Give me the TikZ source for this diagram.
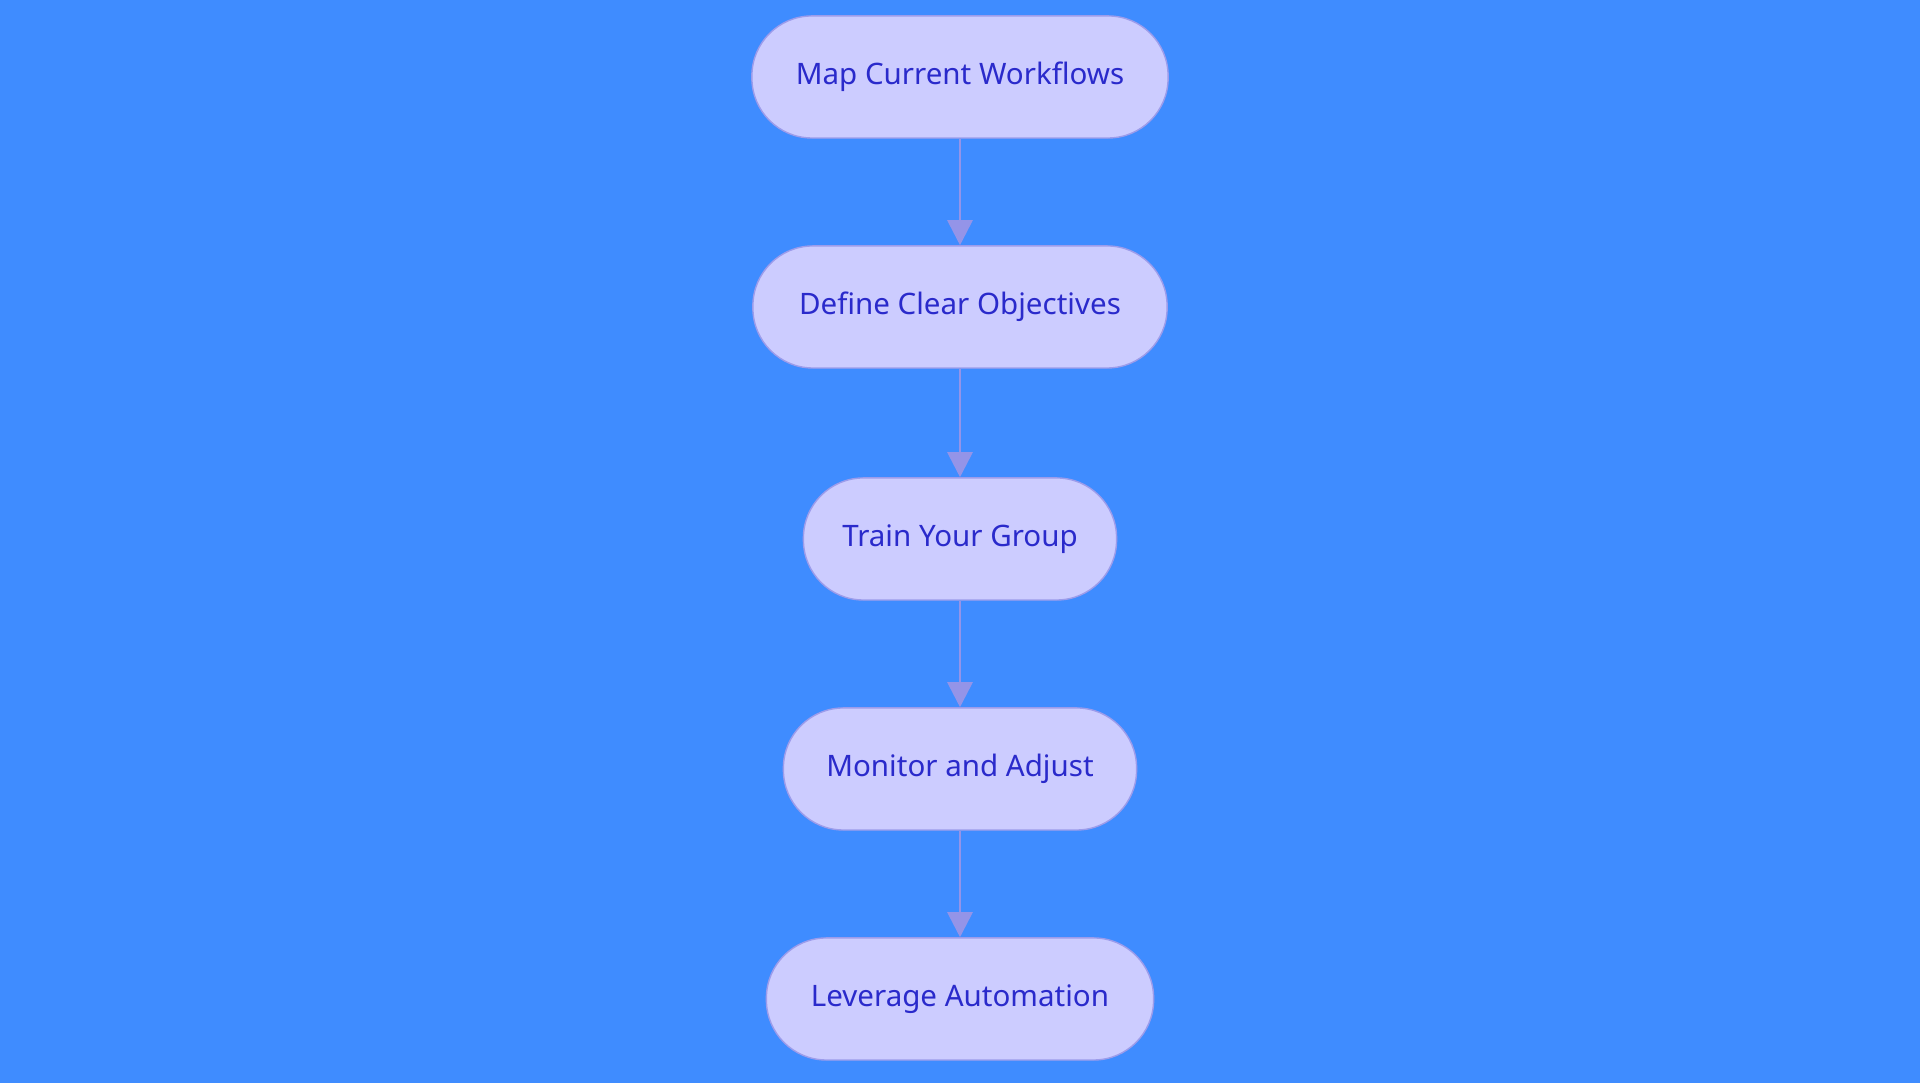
\documentclass[tikz,border=0pt]{standalone}
\usepackage{fontspec}
\setmainfont{Noto Sans}
\usetikzlibrary{positioning,arrows.meta}
\definecolor{bgblue}{HTML}{3F8CFF}
\definecolor{boxfill}{HTML}{CCCCFF}
\definecolor{boxline}{HTML}{9C9CEB}
\definecolor{boxtext}{HTML}{2A2ACB}
\definecolor{arrowc}{HTML}{9494E8}

\begin{document}
\begin{tikzpicture}[x=0.01cm,y=0.01cm,
	stage/.style={draw=boxline, fill=boxfill, text=boxtext, rounded corners=0.6cm,
		minimum height=1.22cm, font=\fontsize{8.4}{10}\selectfont},
	flow/.style={draw=arrowc, line width=0.8pt, -{Triangle[length=0.25cm,width=0.25cm]}}]
	
	% Background
	\fill[bgblue] (0,0) rectangle (1920,1083);
	\useasboundingbox (0,0) rectangle (1920,1083);
	
	% Steps
	\node[stage, minimum width=4.16cm] (map) at (960,1006) {Map Current Workflows};
	\node[stage, minimum width=4.14cm] (define) at (960,776) {Define Clear Objectives};
	\node[stage, minimum width=3.13cm] (train) at (960,544) {Train Your Group};
	\node[stage, minimum width=3.53cm] (monitor) at (960,314) {Monitor and Adjust};
	\node[stage, minimum width=3.87cm] (leverage) at (960,84) {Leverage Automation};
	
	% Arrows
	\draw[flow] (map) -- (define);
	\draw[flow] (define) -- (train);
	\draw[flow] (train) -- (monitor);
	\draw[flow] (monitor) -- (leverage);
	
\end{tikzpicture}
\end{document}
